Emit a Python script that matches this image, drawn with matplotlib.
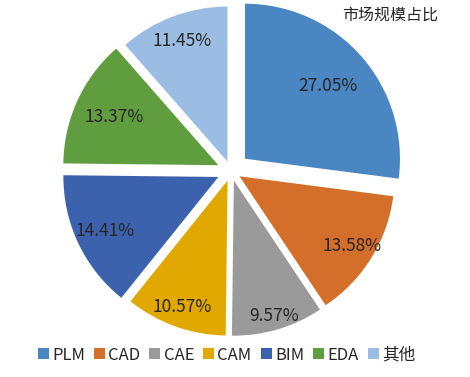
import numpy as np
import matplotlib
matplotlib.use("Agg")
import matplotlib.pyplot as plt

plt.rcParams['font.family'] = ['Noto Sans CJK SC', 'DejaVu Sans']

categories = ["PLM", "CAD", "CAE", "CAM", "BIM", "EDA", "其他"]
shares = [27.05, 13.58, 9.57, 10.57, 14.41, 13.37, 11.45]
colors = ["#4A86C1", "#D46E2B", "#9A9A9A", "#E0A800", "#3D62AD", "#609D3F", "#9CBDE3"]
explode = [0.12, 0.065, 0.065, 0.065, 0.09, 0.09, 0.065]
label_dist = [0.71, 0.85, 0.91, 0.87, 0.81, 0.74, 0.83]

fig = plt.figure(figsize=(4.7, 3.77), dpi=100)
ax = fig.add_axes([0, 0, 1, 1])

wedges, _ = ax.pie(shares, colors=colors, explode=explode, startangle=90,
                   counterclock=False, radius=1.0,
                   wedgeprops=dict(linewidth=0))

for w, v, d in zip(wedges, shares, label_dist):
    mid = np.deg2rad((w.theta1 + w.theta2) / 2)
    cx, cy = w.center
    ax.text(cx + d * np.cos(mid), cy + d * np.sin(mid), f"{v:.2f}%",
            ha="center", va="center", fontsize=12.5, color="#262626")

# map pie centre to pixel (231, 171) with 155 px per unit
s = 155.0
ax.set_xlim(-231 / s, (470 - 231) / s)
ax.set_ylim(-(377 - 171) / s, 171 / s)
ax.set_aspect('auto')
ax.axis('off')

fig.text(390 / 470, 1 - 15 / 377, "市场规模占比", ha="center", va="center",
         fontsize=11.5, color="#262626")

leg = fig.legend(wedges, categories, loc="center", bbox_to_anchor=(0.482, 22 / 377),
                 ncol=7, frameon=False, fontsize=12, handlelength=0.65,
                 handleheight=0.65, handletextpad=0.2, columnspacing=0.55,
                 borderpad=0, labelcolor="#262626")

fig.savefig("out.png", dpi=100)
